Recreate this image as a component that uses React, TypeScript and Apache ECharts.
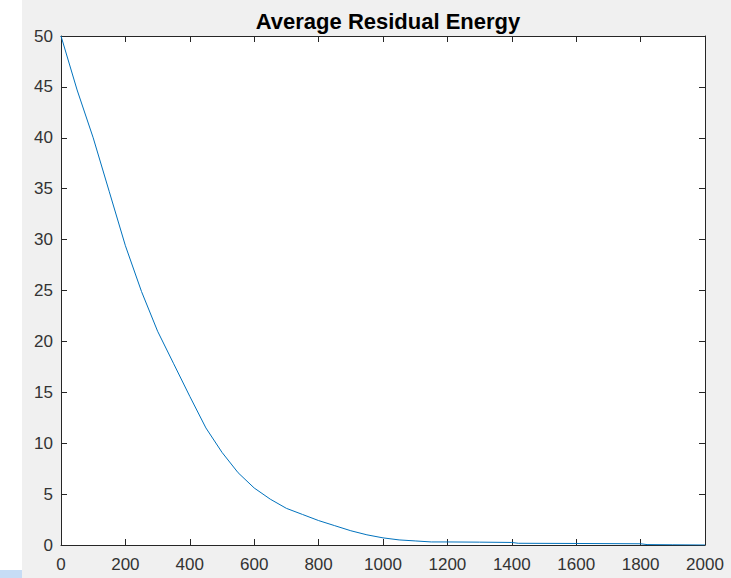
import React, { useEffect, useRef } from "react";
import * as echarts from "echarts";

const xValues = [0, 50, 100, 150, 200, 250, 300, 350, 400, 450, 500, 550, 600, 650, 700, 750, 800, 850, 900, 950, 1000, 1050, 1100, 1150, 1200, 1300, 1400, 1420, 1600, 1800, 1820, 1900, 2000];
const energy = [50, 44.7, 40, 34.7, 29.4, 24.9, 21.0, 17.8, 14.6, 11.5, 9.1, 7.1, 5.6, 4.5, 3.6, 3.0, 2.4, 1.9, 1.4, 1.0, 0.7, 0.5, 0.4, 0.3, 0.3, 0.28, 0.25, 0.17, 0.15, 0.12, 0.04, 0.02, 0];
const titleText = "Average Residual Energy";

const AXIS = "#262626";

export default function App() {
  const ref = useRef<HTMLDivElement>(null);
  useEffect(() => {
    if (!ref.current) return;
    const chart = echarts.init(ref.current, null, { renderer: "svg" });
    const labelStyle = {
      color: "#333333",
      fontFamily: "Liberation Sans, Arial, sans-serif",
      fontSize: 17,
      formatter: (v: number) => String(v),
    };
    const common = {
      type: "value" as const,
      splitLine: { show: false },
      axisLine: { show: true, onZero: false, lineStyle: { color: AXIS, width: 1 } },
      axisTick: { show: true, inside: true, length: 6, lineStyle: { color: AXIS, width: 1 } },
    };
    chart.setOption({
      animation: false,
      backgroundColor: "#f0f0f0",
      title: {
        text: titleText,
        left: 383,
        top: 5,
        textAlign: "center",
        textStyle: { fontFamily: "Liberation Sans, Arial, sans-serif", fontSize: 22, fontWeight: "bold", color: "#000" },
      },
      graphic: [
        { type: "rect", left: 0, top: 0, shape: { width: 22, height: 578 }, style: { fill: "#ffffff" }, z: -10 },
        { type: "rect", left: 0, top: 570, shape: { width: 22, height: 8 }, style: { fill: "#c6dcf5" }, z: -9 },
      ],
      grid: { left: 61, top: 36, right: 26, bottom: 33, containLabel: false, outerBoundsMode: "none", show: true, backgroundColor: "#ffffff", borderWidth: 0 },
      xAxis: [
        { ...common, position: "bottom", min: 0, max: 2000, interval: 200, axisLabel: { ...labelStyle, margin: 11 } },
        { ...common, position: "top", min: 0, max: 2000, interval: 200, axisLabel: { show: false } },
      ],
      yAxis: [
        { ...common, position: "left", min: 0, max: 50, interval: 5, axisLabel: { ...labelStyle, margin: 8, padding: [6, 0, 0, 0] } },
        { ...common, position: "right", min: 0, max: 50, interval: 5, axisLabel: { show: false } },
      ],
      series: [
        {
          type: "line",
          data: xValues.map((x, i) => [x, energy[i]]),
          showSymbol: false,
          smooth: false,
          lineStyle: { color: "#0072BD", width: 1 },
          itemStyle: { color: "#0072BD" },
        },
      ],
    });
    return () => chart.dispose();
  }, []);
  return <div ref={ref} style={{ position: "absolute", left: 0, top: 0, width: 731, height: 578 }} />;
}
